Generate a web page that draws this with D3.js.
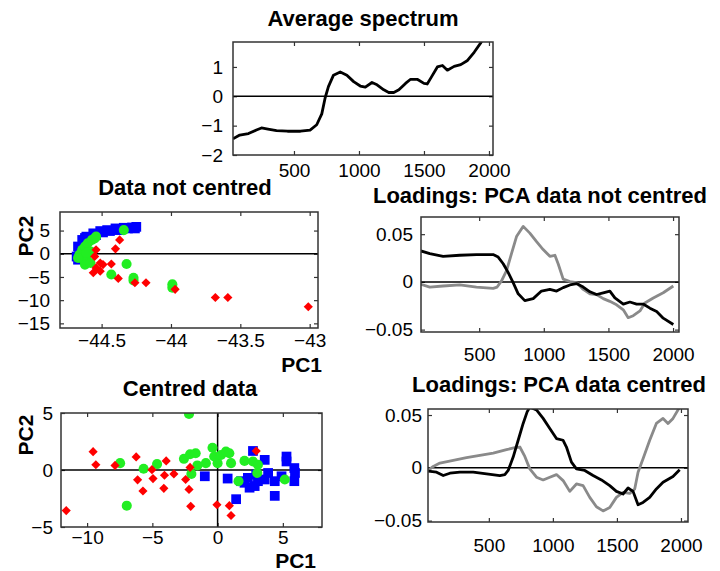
<!DOCTYPE html>
<html><head><meta charset="utf-8">
<script src="https://cdn.jsdelivr.net/npm/d3@7"></script>
<style>body{margin:0;background:#fff}svg{display:block}</style>
</head><body>
<svg id="c" width="720" height="571"></svg>
<script>
// ---------- DATA ----------
const specX = [31, 83, 150, 211, 250, 300, 366, 450, 550, 624, 675, 714, 740, 765, 804, 856, 907, 959, 1010, 1049, 1100, 1139, 1191, 1229, 1268, 1307, 1358, 1397, 1448, 1500, 1525, 1551, 1603, 1642, 1680, 1732, 1783, 1835, 1886, 1938, 2000];
const specY = [-1.45, -1.32, -1.27, -1.15, -1.08, -1.12, -1.17, -1.19, -1.19, -1.15, -0.97, -0.6, -0.05, 0.33, 0.72, 0.83, 0.72, 0.5, 0.35, 0.31, 0.47, 0.39, 0.22, 0.13, 0.13, 0.22, 0.44, 0.58, 0.58, 0.44, 0.42, 0.61, 1.0, 1.05, 0.89, 1.02, 1.08, 1.22, 1.5, 1.83, 2.3];

// Loadings, data not centred
const ncBlackX = [49, 118, 221, 350, 479, 608, 647, 686, 724, 763, 802, 853, 918, 982, 1047, 1099, 1150, 1202, 1253, 1305, 1357, 1408, 1460, 1511, 1550, 1615, 1666, 1718, 1769, 1821, 1873, 1924, 2002];
const ncBlackY = [0.0325, 0.0296, 0.0268, 0.0279, 0.0286, 0.0286, 0.026, 0.019, 0.01, -0.0007, -0.0125, -0.0196, -0.0175, -0.0096, -0.0079, -0.0096, -0.006, -0.0032, -0.0018, -0.0054, -0.0104, -0.0132, -0.0114, -0.0096, -0.0168, -0.0232, -0.0211, -0.0232, -0.0232, -0.0275, -0.031, -0.038, -0.0446];
const ncGrayX = [49, 118, 221, 350, 479, 608, 639, 673, 712, 750, 789, 841, 892, 944, 995, 1047, 1086, 1111, 1150, 1202, 1253, 1305, 1357, 1408, 1460, 1511, 1563, 1615, 1653, 1692, 1744, 1782, 1847, 1924, 2002];
const ncGrayY = [-0.0025, -0.0054, -0.0043, -0.0032, -0.0054, -0.0068, -0.0054, 0.001, 0.0118, 0.0296, 0.0475, 0.0582, 0.0511, 0.0421, 0.0339, 0.0268, 0.0279, 0.019, 0.0029, 0.0004, -0.0007, -0.0079, -0.0125, -0.0132, -0.0175, -0.0204, -0.024, -0.0293, -0.0375, -0.0354, -0.0304, -0.0221, -0.0168, -0.0114, -0.0043];

// Loadings, data centred
const cBlackX = [27, 92, 144, 196, 274, 378, 482, 586, 625, 651, 690, 729, 768, 799, 820, 872, 924, 976, 1028, 1080, 1106, 1145, 1184, 1249, 1314, 1379, 1444, 1496, 1548, 1587, 1626, 1665, 1704, 1756, 1808, 1860, 1938, 1990];
const cBlackY = [-0.0032, -0.0041, -0.0073, -0.0051, -0.0041, -0.0041, -0.0057, -0.0073, -0.0064, -0.0025, 0.0102, 0.0261, 0.042, 0.053, 0.0575, 0.0548, 0.0468, 0.0373, 0.0277, 0.0261, 0.0197, 0.0054, -0.001, -0.0025, -0.0073, -0.0115, -0.0169, -0.0223, -0.0248, -0.0191, -0.0223, -0.035, -0.0328, -0.028, -0.02, -0.0137, -0.0083, -0.0019];
const cGrayX = [27, 66, 118, 222, 326, 430, 534, 638, 703, 742, 781, 820, 872, 924, 976, 1028, 1080, 1132, 1184, 1236, 1288, 1340, 1392, 1444, 1496, 1548, 1600, 1639, 1665, 1704, 1756, 1808, 1860, 1899, 1938, 1990];
const cGrayY = [-0.0025, 0.0013, 0.0045, 0.007, 0.0096, 0.0118, 0.014, 0.0172, 0.0191, 0.0197, 0.0108, -0.001, -0.0089, -0.0115, -0.0089, -0.0064, -0.0121, -0.0223, -0.0153, -0.0169, -0.028, -0.0369, -0.0408, -0.0376, -0.028, -0.0232, -0.0242, -0.02, -0.0041, 0.0086, 0.0261, 0.042, 0.0468, 0.042, 0.0468, 0.0575];

// Scores, data not centred: [PC1, PC2]
const ncBlue = [[-44.67,-1.28],[-44.67,1.56],[-44.64,2.98],[-44.61,3.69],[-44.56,4.4],[-44.51,4.89],[-44.46,5.1],[-44.40,5.46],[-44.34,5.6],[-44.28,5.67],[-44.26,5.46],[-44.25,5.8],[-44.66,0.14],[-44.63,2.27],[-44.60,2.98],[-44.54,4.04],[-44.49,4.6],[-44.44,4.9],[-44.38,5.1],[-44.31,5.46],[-44.68,-0.6],[-44.66,0.9],[-44.62,3.4]];
const ncGreen = [[-44.34,5.1],[-44.66,-0.2],[-44.64,0.85],[-44.63,-1.28],[-44.62,1.56],[-44.61,-0.57],[-44.60,2.27],[-44.58,0.5],[-44.57,2.98],[-44.55,3.33],[-44.54,3.69],[-44.62,-2.34],[-44.58,-1.99],[-44.32,-2.2],[-44.43,-4.47],[-44.27,-5.18],[-44.27,-5.74],[-43.99,-6.6],[-43.99,-7.3],[-44.67,-0.9],[-44.61,0.2]];
const ncRed = [[-44.37,2.98],[-44.40,1.06],[-44.54,0.85],[-44.55,-0.57],[-44.51,-1.99],[-44.49,-2.34],[-44.43,-2.2],[-44.54,-3.05],[-44.51,-3.76],[-44.38,-5.32],[-44.26,-6.24],[-44.18,-6.24],[-43.97,-7.66],[-43.68,-9.43],[-43.59,-9.43],[-43.01,-11.42],[-44.56,-4.1]];

// Scores, centred data: [PC1, PC2]
const cBlue = [[-0.98,-0.55],[0.77,-0.75],[1.42,-2.56],[2.06,-1.12],[2.45,-1.55],[2.71,1.67],[2.84,-1.41],[3.61,0.89],[3.61,-0.83],[3.87,-0.26],[4.38,-0.98],[4.38,-2.27],[4.90,-0.55],[5.28,1.18],[5.28,0.75],[5.88,0.17],[5.93,-0.26],[5.88,-0.98],[2.32,-0.69],[3.09,-0.98],[2.96,-0.40],[1.80,-0.98]];
const cGreen = [[-2.19,4.91],[-7.47,0.60],[-6.96,-3.13],[-5.67,0.11],[-4.64,0.52],[-2.58,0.98],[-2.11,1.38],[-1.68,1.47],[-2.01,-0.34],[-1.55,0.40],[-0.90,0.60],[-0.39,1.95],[-0.26,1.18],[0,0.6],[0.26,1.32],[0.64,1.61],[0.90,1.47],[1.03,0.60],[1.60,-0.98],[2.06,0.80],[2.71,0.75],[3.09,0.46],[3.04,-0.26],[5.15,-0.83]];
const cRed = [[-11.6,-3.56],[-9.54,1.61],[-9.33,0.46],[-7.86,0.40],[-6.24,1.15],[-6.13,-0.86],[-5.72,-1.84],[-5.03,0.03],[-4.95,-0.75],[-4.12,-1.61],[-3.94,0.80],[-4.07,-0.46],[-3.35,-0.34],[-2.45,-0.83],[-2.19,-1.70],[-2.06,-3.19],[-2.11,0.23],[-0.05,-3.05],[0.90,-3.13],[1.03,-3.99],[2.96,1.67]];

// Tick values
const specXTicks = [500, 1000, 1500, 2000];
const specYTicks = [-2, -1, 0, 1];
const loadXTicks = [500, 1000, 1500, 2000];
const loadYTicks = [-0.05, 0, 0.05];
const ncScoreXTicks = [-44.5, -44, -43.5, -43];
const ncScoreYTicks = [-15, -10, -5, 0, 5];
const cScoreXTicks = [-10, -5, 0, 5];
const cScoreYTicks = [-5, 0, 5];

// ---------- DRAW ----------
const svg = d3.select("#c");
const FONT = "'Liberation Sans', Arial, Helvetica, sans-serif";
let clipId = 0;

function panel(o) {
  const x = d3.scaleLinear().domain(o.xDom).range([o.l, o.r]);
  const y = d3.scaleLinear().domain(o.yDom).range([o.b, o.t]);
  const g = svg.append("g");
  const id = "clip" + (clipId++);
  g.append("clipPath").attr("id", id).append("rect")
    .attr("x", o.l).attr("y", o.t).attr("width", o.r - o.l).attr("height", o.b - o.t);
  const fmtX = o.xFmt || (d => d3.format("")(d));
  const fmtY = o.yFmt || (d => d3.format("")(d));
  const ax = [];
  ax.push(g.append("g").attr("transform", `translate(0,${o.b})`)
    .call(d3.axisBottom(x).tickValues(o.xTicks).tickSizeInner(-4).tickSizeOuter(0).tickPadding(o.xPad).tickFormat(fmtX)));
  ax.push(g.append("g").attr("transform", `translate(0,${o.t})`)
    .call(d3.axisTop(x).tickValues(o.xTicks).tickSizeInner(-4).tickSizeOuter(0).tickFormat("")));
  ax.push(g.append("g").attr("transform", `translate(${o.l},0)`)
    .call(d3.axisLeft(y).tickValues(o.yTicks).tickSizeInner(-4).tickSizeOuter(0).tickPadding(o.yPad).tickFormat(fmtY)));
  ax.push(g.append("g").attr("transform", `translate(${o.r},0)`)
    .call(d3.axisRight(y).tickValues(o.yTicks).tickSizeInner(-4).tickSizeOuter(0).tickFormat("")));
  ax.forEach(a => {
    a.select(".domain").remove();
    a.selectAll(".tick line").attr("stroke", "#333").attr("stroke-width", 1.2);
    a.selectAll("text").attr("font-family", FONT).attr("font-size", 19).attr("fill", "#000");
  });
  const plot = g.append("g").attr("clip-path", `url(#${id})`);
  plot.append("line").attr("x1", o.l).attr("x2", o.r).attr("y1", y(0)).attr("y2", y(0))
    .attr("stroke", "#000").attr("stroke-width", 1.5);
  if (o.zeroX) plot.append("line").attr("x1", x(0)).attr("x2", x(0)).attr("y1", o.t).attr("y2", o.b)
    .attr("stroke", "#000").attr("stroke-width", 1.5);
  g.append("rect").attr("x", o.l).attr("y", o.t).attr("width", o.r - o.l).attr("height", o.b - o.t)
    .attr("fill", "none").attr("stroke", "#333").attr("stroke-width", 1.5);
  g.append("text").attr("x", o.titleX).attr("y", o.titleY).attr("text-anchor", "middle")
    .attr("font-family", FONT).attr("font-weight", "bold").attr("font-size", 22).text(o.title);
  return {g, x, y, plot};
}

function drawLine(p, xs, ys, color, w) {
  const pts = xs.map((v, i) => [v, ys[i]]);
  p.plot.append("path").datum(pts)
    .attr("d", d3.line().x(d => p.x(d[0])).y(d => p.y(d[1])))
    .attr("fill", "none").attr("stroke", color).attr("stroke-width", w)
    .attr("stroke-linejoin", "round");
}

function drawPoints(p, pts, kind) {
  const sym = kind === "blue" ? d3.symbol(d3.symbolSquare, 95)
    : kind === "green" ? d3.symbol(d3.symbolCircle, 80)
    : d3.symbol(d3.symbolSquare, 42);
  const col = kind === "blue" ? "#0000ff" : kind === "green" ? "#22ee22" : "#ff0000";
  p.plot.append("g").selectAll("path").data(pts).join("path")
    .attr("d", sym)
    .attr("transform", d => `translate(${p.x(d[0])},${p.y(d[1])})` + (kind === "red" ? " rotate(45)" : ""))
    .attr("fill", col);
}

function axisLabels(xLab, yLab) {
  svg.append("text").attr("x", xLab[0]).attr("y", xLab[1]).attr("text-anchor", "end")
    .attr("font-family", FONT).attr("font-weight", "bold").attr("font-size", 21).text("PC1");
  svg.append("text").attr("transform", `translate(${yLab[0]},${yLab[1]}) rotate(-90)`)
    .attr("text-anchor", "middle")
    .attr("font-family", FONT).attr("font-weight", "bold").attr("font-size", 21).text("PC2");
}

const loadFmt = d => d === 0 ? "0" : d3.format(".2f")(d);

// Average spectrum
const p1 = panel({l: 233, r: 493, t: 42, b: 155, xDom: [31, 2031], yDom: [-2, 1.85],
  xTicks: specXTicks, yTicks: specYTicks, xPad: 9, yPad: 10,
  title: "Average spectrum", titleX: 363, titleY: 26});
drawLine(p1, specX, specY, "#000", 2.8);

// Data not centred
const p2 = panel({l: 60, r: 318, t: 212, b: 328, xDom: [-44.8, -42.94], yDom: [-16, 9],
  xTicks: ncScoreXTicks, yTicks: ncScoreYTicks, xPad: 6, yPad: 10,
  title: "Data not centred", titleX: 185, titleY: 195});
drawPoints(p2, ncBlue, "blue");
drawPoints(p2, ncGreen, "green");
drawPoints(p2, ncRed, "red");
axisLabels([322, 372], [33, 236]);

// Loadings not centred
const p3 = panel({l: 421, r: 679, t: 217, b: 332, xDom: [50, 2046], yDom: [-0.0525, 0.068],
  xTicks: loadXTicks, yTicks: loadYTicks, xPad: 16, yPad: 8, xFmt: d3.format(""), yFmt: loadFmt,
  title: "Loadings: PCA data not centred", titleX: 540, titleY: 203});
drawLine(p3, ncGrayX, ncGrayY, "#8a8a8a", 2.8);
drawLine(p3, ncBlackX, ncBlackY, "#000", 2.8);

// Centred data
const p4 = panel({l: 61, r: 322, t: 413, b: 527, xDom: [-12, 8], yDom: [-5, 5],
  xTicks: cScoreXTicks, yTicks: cScoreYTicks, xPad: 4, yPad: 8, zeroX: true,
  title: "Centred data", titleX: 190, titleY: 396});
drawPoints(p4, cBlue, "blue");
drawPoints(p4, cGreen, "green");
drawPoints(p4, cRed, "red");
axisLabels([316, 568], [33, 435]);

// Loadings centred
const p5 = panel({l: 428, r: 688, t: 409, b: 522, xDom: [25, 2055], yDom: [-0.0513, 0.0557],
  xTicks: loadXTicks, yTicks: loadYTicks, xPad: 17, yPad: 6, xFmt: d3.format(""), yFmt: loadFmt,
  title: "Loadings: PCA data centred", titleX: 559, titleY: 392});
drawLine(p5, cGrayX, cGrayY, "#8a8a8a", 2.8);
drawLine(p5, cBlackX, cBlackY, "#000", 2.8);
</script>
</body></html>
